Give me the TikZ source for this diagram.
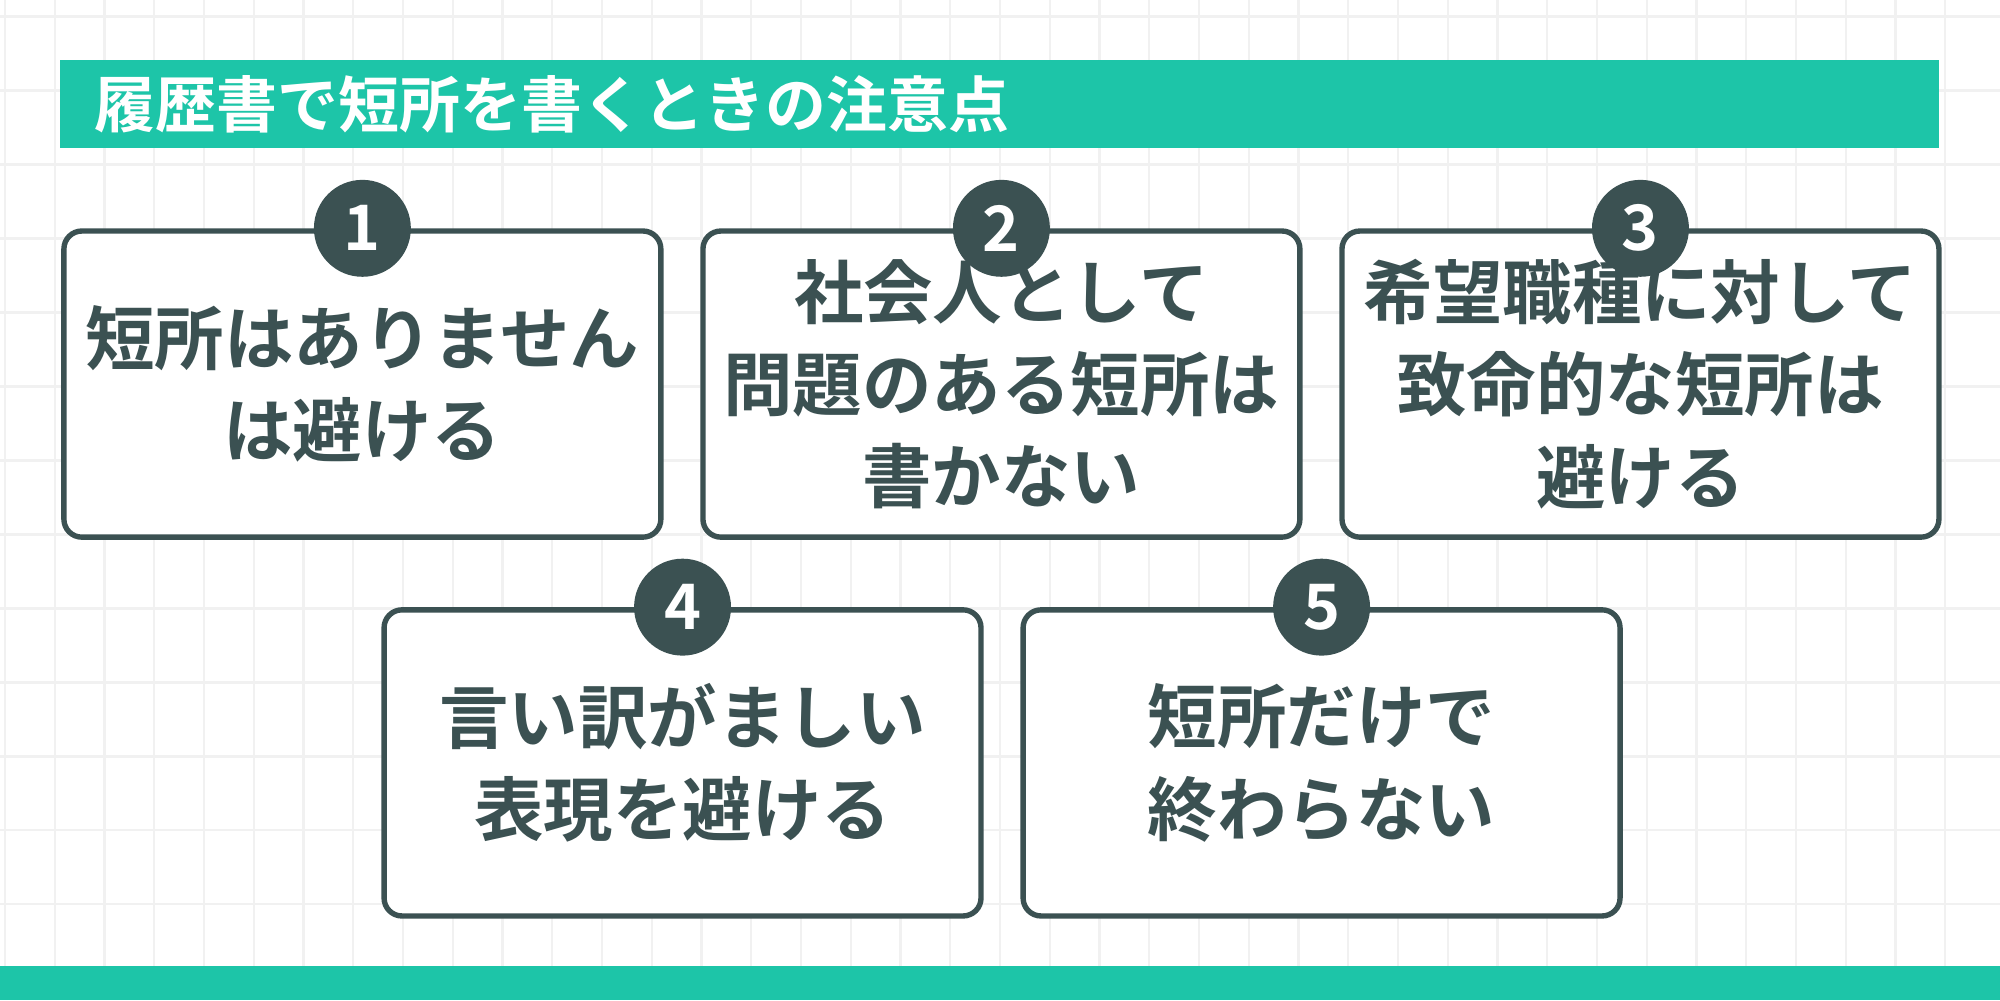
\documentclass[tikz,border=0pt]{standalone}
\usepackage{fontspec}
\setmainfont{Noto Sans CJK JP}[BoldFont={Noto Sans CJK JP Bold}]
\definecolor{teal bar}{HTML}{1DC5A8}
\definecolor{dark slate}{HTML}{3B5152}
\tikzset{
  point box/.style={draw=dark slate, line width=1.2pt, rounded corners=4pt, fill=white,
    minimum width=4.68cm, minimum height=2.4cm, anchor=north west, align=center,
    text=dark slate, font=\bfseries\fontsize{15.5}{20.6}\selectfont},
  point num/.style={circle, fill=dark slate, minimum size=0.76cm, inner sep=0pt,
    text=white, font=\bfseries\fontsize{14}{16}\selectfont},
}
\begin{document}
\begin{tikzpicture}
\useasboundingbox (0,0) rectangle (15.68,7.84);
\fill[white] (0,0) rectangle (15.68,7.84);
% grid
\foreach \x in {0.04,0.43,...,15.6} \draw[gray!11, line width=0.5pt] (\x,0) -- (\x,7.84);
\foreach \y in {0.17,0.75,...,7.8} \draw[gray!11, line width=0.5pt] (0,\y) -- (15.68,\y);
% title and footer
\fill[teal bar] (0.47,6.68) rectangle (15.2,7.37);
\node[anchor=west, text=white, font=\bfseries\fontsize{13.6}{16}\selectfont] (title) at (0.62,7.02) {履歴書で短所を書くときの注意点};
\fill[teal bar] (0,0) rectangle (15.68,0.27);
% boxes
\node[point box] (p1) at (0.48,6.05) {短所はありません\\は避ける};
\node[point box] (p2) at (5.49,6.05) {社会人として\\問題のある短所は\\書かない};
\node[point box] (p3) at (10.50,6.05) {希望職種に対して\\致命的な短所は\\避ける};
\node[point box] (p4) at (2.99,3.08) {言い訳がましい\\表現を避ける};
\node[point box] (p5) at (8.00,3.08) {短所だけで\\終わらない};
\foreach \i in {1,...,5} \node[point num] (n\i) at (p\i.north) {\i};
\end{tikzpicture}
\end{document}
